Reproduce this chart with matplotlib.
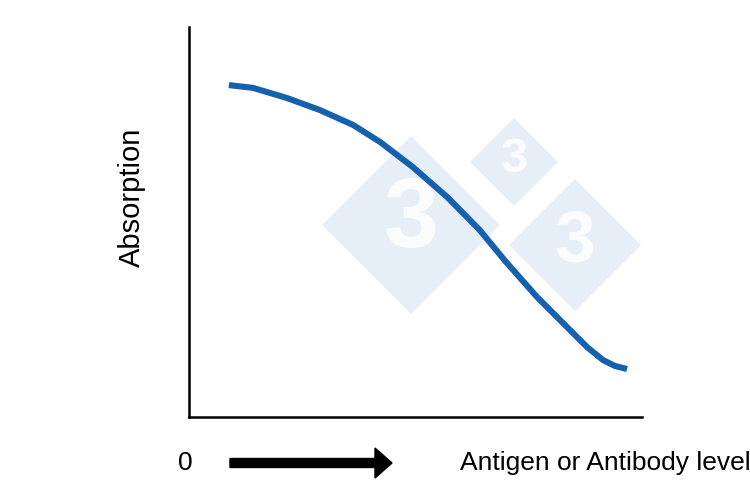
import matplotlib.pyplot as plt
from matplotlib.patches import Polygon, FancyArrow

# curve points (arbitrary units, axes 0..10)
level = [0.88, 1.41, 2.16, 2.89, 3.62, 4.22, 4.94, 5.70, 6.42, 6.98, 7.68, 8.41, 8.79, 9.14, 9.40, 9.67]
absorption = [8.51, 8.44, 8.18, 7.87, 7.49, 7.05, 6.41, 5.64, 4.79, 4.00, 3.08, 2.23, 1.79, 1.46, 1.31, 1.23]

plt.rcParams['font.family'] = ['Liberation Sans', 'DejaVu Sans']

fig = plt.figure(figsize=(7.5, 5), dpi=100)

# faint watermark diamonds behind the axes (figure pixel coords)
def diamond(cx, cy, r):
    pts = [(cx - r, cy), (cx, cy - r), (cx + r, cy), (cx, cy + r)]
    pts = [(x / 750, 1 - y / 500) for x, y in pts]
    fig.patches.append(Polygon(pts, closed=True, transform=fig.transFigure,
                               facecolor='#e6eef7', edgecolor='none', zorder=0))
    fig.text(cx / 750, 1 - (cy - 3) / 500, '3', color='#fbfcfe', fontsize=r * 0.8,
             fontweight='bold', ha='center', va='center', zorder=0.5)

diamond(411, 225, 89)
diamond(514, 162, 44)
diamond(575, 245, 66)

ax = fig.add_axes([189 / 750, 83 / 500, 453 / 750, 390 / 500])
ax.set_zorder(2)
ax.patch.set_alpha(0)
ax.plot(level, absorption, color='#1660b0', linewidth=4.4,
        solid_capstyle='butt', solid_joinstyle='round')
ax.set_xlim(0, 10)
ax.set_ylim(0, 10)
ax.set_xticks([])
ax.set_yticks([])
for s in ['top', 'right']:
    ax.spines[s].set_visible(False)
for s in ['left', 'bottom']:
    ax.spines[s].set_linewidth(1.8)
    ax.spines[s].set_color('black')

fig.text(132 / 750, 1 - 197 / 500, 'Absorption', rotation=90, fontsize=21,
         ha='center', va='center')
fig.text(185 / 750, 1 - 463 / 500, '0', fontsize=19, ha='center', va='center')
fig.text(460 / 750, 1 - 463 / 500, 'Antigen or Antibody levels', fontsize=19,
         ha='left', va='center')

fig.patches.append(FancyArrow(230 / 750, 1 - 463 / 500, 162 / 750, 0,
                              width=9 / 500, head_width=30 / 500, head_length=17 / 750,
                              length_includes_head=True, transform=fig.transFigure,
                              color='black'))

plt.savefig('out.png', dpi=100)
